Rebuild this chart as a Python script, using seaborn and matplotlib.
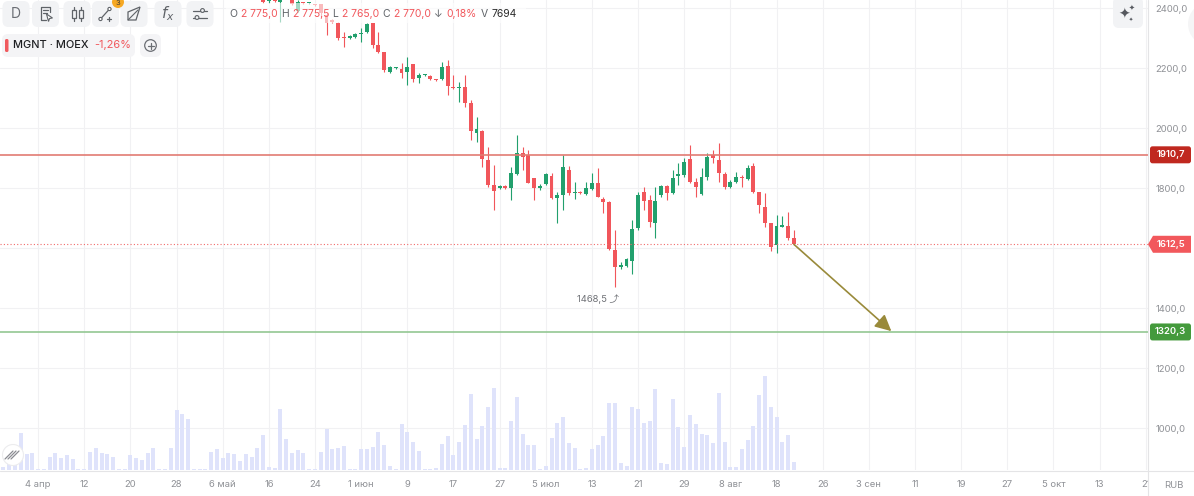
import numpy as np
import pandas as pd
import matplotlib
matplotlib.use("Agg")
import matplotlib.pyplot as plt
import seaborn as sns
from matplotlib.patches import FancyBboxPatch, Rectangle, Circle, Polygon
from matplotlib.lines import Line2D
from matplotlib.transforms import IdentityTransform, blended_transform_factory

# ---------------- data ----------------
volume = [6, 18, 18, 88, 37, 40, 2, 2, 32, 40, 28, 35, 26, 2, 2, 44, 53, 40, 37, 32,
          2, 2, 35, 28, 23, 41, 53, 2, 2, 53, 143, 134, 121, 3, 3, 2, 44, 51, 29, 40,
          38, 21, 37, 31, 53, 84, 6, 5, 145, 74, 40, 48, 41, 3, 3, 44, 98, 49, 53, 58,
          2, 2, 50, 50, 55, 90, 60, 10, 3, 110, 91, 66, 45, 3, 3, 4, 63, 80, 35, 66,
          106, 182, 73, 104, 151, 195, 5, 4, 117, 174, 86, 59, 60, 3, 9, 75, 113, 125, 65, 53,
          3, 4, 51, 60, 80, 159, 159, 16, 10, 151, 145, 113, 117, 194, 16, 14, 170, 102, 54, 130,
          110, 86, 84, 65, 184, 67, 8, 6, 51, 71, 104, 178, 224, 149, 126, 66, 84, 18]

candle_first_bar = 45
opens = [2428, 2423, 2424, 2420, 2445, 2432, 2390, 2417, 2416, 2413,
         2413, 2377, 2360, 2350, 2300, 2300, 2303, 2313, 2320, 2350,
         2277, 2253, 2187, 2200, 2197, 2187, 2213, 2167, 2178, 2173,
         2163, 2163, 2207, 2137, 2133, 2137, 2083, 1983, 1990, 1893,
         1810, 1800, 1807, 1800, 1847, 1917, 1910, 1833, 1800, 1813,
         1840, 1767, 1777, 1860, 1783, 1787, 1780, 1797, 1817, 1763,
         1753, 1593, 1537, 1540, 1557, 1667, 1787, 1760, 1683, 1777,
         1807, 1783, 1840, 1843, 1897, 1820, 1780, 1837, 1910, 1893,
         1847, 1803, 1820, 1837, 1830, 1873, 1787, 1737, 1683, 1610,
         1670, 1673, 1633]
highs = [2433, 2428, 2427, 2440, 2452, 2440, 2428, 2420, 2420, 2415,
         2415, 2383, 2363, 2352, 2320, 2310, 2316, 2333, 2350, 2350,
         2320, 2255, 2206, 2203, 2217, 2236, 2215, 2183, 2181, 2176,
         2165, 2220, 2227, 2177, 2153, 2177, 2093, 2037, 1993, 1937,
         1877, 1810, 1810, 1870, 1977, 1937, 1927, 1835, 1813, 1850,
         1850, 1787, 1910, 1873, 1820, 1790, 1820, 1850, 1867, 1770,
         1757, 1660, 1553, 1567, 1693, 1787, 1803, 1777, 1803, 1810,
         1810, 1860, 1883, 1900, 1943, 1833, 1867, 1917, 1927, 1950,
         1853, 1827, 1853, 1843, 1877, 1883, 1787, 1783, 1683, 1710,
         1707, 1720, 1660]
lows = [2418, 2418, 2419, 2353, 2432, 2410, 2387, 2413, 2413, 2408,
        2370, 2310, 2350, 2293, 2270, 2297, 2300, 2287, 2318, 2267,
        2250, 2187, 2185, 2197, 2166, 2143, 2153, 2150, 2175, 2160,
        2158, 2160, 2110, 2130, 2087, 2070, 1960, 1953, 1870, 1803,
        1727, 1797, 1797, 1760, 1843, 1860, 1817, 1760, 1793, 1810,
        1763, 1683, 1727, 1777, 1763, 1780, 1777, 1793, 1770, 1717,
        1593, 1468.5, 1530, 1537, 1513, 1660, 1727, 1670, 1633, 1770,
        1760, 1780, 1810, 1837, 1817, 1770, 1777, 1827, 1883, 1820,
        1797, 1800, 1817, 1803, 1827, 1783, 1717, 1670, 1590, 1583,
        1670, 1627, 1610]
closes = [2421, 2423, 2422, 2430, 2438, 2413, 2420, 2416, 2417, 2410,
          2383, 2350, 2353, 2300, 2299, 2307, 2313, 2317, 2347, 2277,
          2253, 2193, 2203, 2200, 2183, 2203, 2163, 2177, 2178, 2163,
          2160, 2203, 2140, 2133, 2137, 2083, 1990, 1997, 1897, 1810,
          1790, 1807, 1800, 1850, 1917, 1903, 1817, 1800, 1807, 1847,
          1767, 1777, 1870, 1783, 1787, 1783, 1800, 1817, 1770, 1753,
          1597, 1537, 1543, 1563, 1663, 1777, 1757, 1687, 1757, 1807,
          1783, 1833, 1847, 1887, 1820, 1803, 1837, 1903, 1900, 1850,
          1803, 1820, 1837, 1833, 1867, 1787, 1743, 1683, 1603, 1673,
          1677, 1633, 1612.5]

date_labels = ["4 апр", "12", "20", "28", "6 май", "16", "24", "1 июн", "9", "17",
               "27", "5 июл", "13", "21", "29", "8 авг", "18", "26", "3 сен", "11",
               "19", "27", "5 окт", "13", "21"]
price_ticks = [1000, 1200, 1400, 1600, 1800, 2000, 2200, 2400]
resistance_level = 1910.7
target_level = 1320.3
last_price = 1612.5
period_low = 1468.5
target_bar = 153.9
target_price = 1323.0
ohlc_header = [("O", "2 775,0"), ("H", "2 775,5"), ("L", "2 765,0"), ("C", "2 770,0")]
change_pct = "0,18%"
volume_last = "7694"
ticker = "MGNT · MOEX"
day_change = "-1,26%"
currency = "RUB"

# ---------------- style ----------------
sns.set_theme(style="white")
plt.rcParams['font.family'] = ['Inter', 'DejaVu Sans', 'Noto Sans CJK SC', 'Noto Sans']

RED = '#f1565b'
GREEN = '#22a06d'
VOL = '#dfe3fb'
GRID = '#f1f1f3'
LABEL = '#8f9196'

W, H = 1194, 496
fig = plt.figure(figsize=(W / 100, H / 100), dpi=100, facecolor='white')
rect = [0, 26 / H, 1147.5 / W, 470 / H]
ax_vol = fig.add_axes(rect, zorder=0)
ax = fig.add_axes(rect, zorder=1)
ax.patch.set_visible(False)

XLIM = (-0.6, 198.3)
YLIM = (860.2, 2426.7)
ax.set_xlim(*XLIM)
ax.set_ylim(*YLIM)

tick_pos = [6 + 8 * k for k in range(len(date_labels))]

# ---- volume (seaborn) ----
vol_df = pd.DataFrame({"bar": np.arange(len(volume)), "volume": volume})
sns.barplot(data=vol_df, x="bar", y="volume", native_scale=True, color=VOL,
            saturation=1, width=0.7, errorbar=None, linewidth=0, ax=ax_vol, zorder=2)
ax_vol.set_xlim(*XLIM)
ax_vol.set_ylim(0, 1119)
ax_vol.set_axis_off()
# grid behind volume
bt = blended_transform_factory(ax_vol.transAxes, ax.transData)
for p in price_ticks:
    ax_vol.plot([0, 1], [p, p], transform=bt, color=GRID, lw=0.8, zorder=0)
for t in tick_pos:
    ax_vol.axvline(t, color=GRID, lw=0.8, zorder=0)

# ---- candles ----
ci = np.arange(candle_first_bar, candle_first_bar + len(opens))
o = np.array(opens, float); h = np.array(highs, float)
l = np.array(lows, float); c = np.array(closes, float)
cols = np.where(c >= o, GREEN, RED)
ax.vlines(ci, l, h, colors=cols, lw=0.8, zorder=3)
body = np.maximum(np.abs(c - o), 3.3)
ax.bar(ci, body, bottom=np.minimum(o, c), width=0.68, color=cols, linewidth=0, zorder=4)

# ---- levels ----
ax.axhline(resistance_level, color='#e27b73', lw=1.2, zorder=5)
ax.axhline(target_level, color='#93c792', lw=1.2, zorder=5)
ax.axhline(last_price, color='#f06a6a', lw=0.8, ls=(0, (1, 2)), zorder=5)
ax.annotate('', xy=(target_bar, target_price), xytext=(ci[-1], closes[-1]),
            arrowprops=dict(arrowstyle='-|>,head_length=0.7,head_width=0.35', color='#998a3a',
                            lw=1.2, shrinkA=0, shrinkB=0, mutation_scale=14), zorder=6)
low_bar = ci[int(np.argmin(l))]
ax.annotate(f"{period_low:.1f}".replace('.', ',') + " ⤴", xy=(low_bar, period_low),
            xytext=(-17, -7), textcoords='offset pixels', ha='center', va='top',
            fontsize=6.8, color='#6f7176', zorder=6)

# ---- axes ticks ----
for s in ax.spines.values():
    s.set_visible(False)
ax.grid(False)
ax.set_xticks(tick_pos, labels=date_labels)
ax.tick_params(axis='x', length=0, pad=7.5, labelsize=6.8, labelcolor=LABEL)
ax.yaxis.tick_right()
ax.set_yticks(price_ticks, labels=['' if p == 1600 else f"{p:.1f}".replace('.', ',') for p in price_ticks])
ax.tick_params(axis='y', length=0, pad=5.5, labelsize=6.8, labelcolor=LABEL)

# ---------------- overlay helpers (pixel coords, origin top-left) ----------------
T = IdentityTransform()


def L(xs, ys, color='#5f6368', lw=1.0, z=9, **kw):
    fig.add_artist(Line2D(xs, [H - y for y in ys], transform=T, color=color, lw=lw,
                          solid_capstyle='round', zorder=z, **kw))


def box(x0, y0, x1, y1, fc, r=5, z=7, ec='none', lw=0):
    fig.add_artist(FancyBboxPatch((x0, H - y1), x1 - x0, y1 - y0,
                                  boxstyle=f"round,pad=0,rounding_size={r}",
                                  transform=T, fc=fc, ec=ec, lw=lw, zorder=z))


def txt(x, y, s, **kw):
    kw.setdefault('zorder', 10)
    return fig.text(x, H - y, s, transform=T, **kw)


renderer = fig.canvas.get_renderer()

# separators
fig.add_artist(Rectangle((1148, 0), W - 1148, 25, transform=T, fc='white', ec='none', zorder=5))
fig.add_artist(Line2D([1147.5, 1147.5], [0, H], transform=T, color='#e4e4e6', lw=0.8, zorder=6))
fig.add_artist(Line2D([0, W], [H - 470.5, H - 470.5], transform=T, color='#e4e4e6', lw=0.8, zorder=6))
txt(1174, 486, currency, fontsize=6.8, color=LABEL, ha='center', va='center')

# price badges
def ypix(price):
    return H - ax.transData.transform((0, price))[1]


for price, fc in [(resistance_level, '#c0281f'), (target_level, '#449a3c')]:
    yc = ypix(price)
    box(1150, yc - 8.5, 1191, yc + 8.5, fc, r=2.5, z=8)
    txt(1170.5, yc, f"{price:.1f}".replace('.', ','), fontsize=6.8, color='white',
        ha='center', va='center', weight='semibold')
yc = ypix(last_price)
fig.add_artist(Polygon([(1148, H - yc), (1153, H - yc - 8.5), (1191, H - yc - 8.5),
                        (1191, H - yc + 8.5), (1153, H - yc + 8.5)], closed=True,
                       transform=T, fc='#f2585c', ec='none', zorder=8))
txt(1171, yc, f"{last_price:.1f}".replace('.', ','), fontsize=6.8, color='white',
    ha='center', va='center', weight='semibold')

# ---- faded band behind OHLC header ----
fig.add_artist(Rectangle((226, H - 23), 300, 20, transform=T, fc='white', ec='none',
                         alpha=0.6, zorder=7))
x = 229.5
parts = []
for k, v in ohlc_header:
    parts += [(k, '#5f6368'), (v, RED)]
parts += [("↓", '#5f6368'), (change_pct, RED), ("V", '#5f6368'), (volume_last, '#2b2b2b')]
for i, (s, col) in enumerate(parts):
    t = txt(x, 14, s, fontsize=7.5, color=col, ha='left', va='center')
    bb = t.get_window_extent(renderer=renderer)
    x = bb.x1 + 3.6

# ---- toolbar ----
BTN = '#f2f3f5'
ICON = '#5f6368'
centers = [16, 45.5, 77, 105.5, 134, 168, 200]
for cx in centers:
    box(cx - 13.5, 1, cx + 13.5, 27, BTN, r=6)
txt(16, 14.5, "D", fontsize=10, color='#6b6e74', ha='center', va='center')
# document icon
cx = 45.5
L([cx - 5, cx - 5, cx + 4, cx + 4], [16, 7, 7, 12], lw=0.9)
L([cx - 5, cx - 5, cx + 0], [16, 20, 20], lw=0.9)
L([cx - 3, cx + 2], [10, 10], lw=0.9)
L([cx - 3, cx + 1], [13, 13], lw=0.9)
fig.add_artist(Polygon([(cx + 1, H - 14), (cx + 7, H - 18), (cx + 4, H - 18.5), (cx + 3, H - 21.5)],
                       closed=True, transform=T, fc='white', ec=ICON, lw=0.8, zorder=9))
# candle icon
cx = 77
for dx in (-3.5, 3.5):
    fig.add_artist(Rectangle((cx + dx - 2, H - 18), 4, 8, transform=T, fc='none', ec=ICON,
                             lw=0.9, zorder=9))
    L([cx + dx, cx + dx], [7, 10], lw=0.9)
    L([cx + dx, cx + dx], [18, 21], lw=0.9)
# drawing icon
cx = 105.5
L([cx - 5, cx + 4], [19, 9], lw=0.9)
for (px, py) in [(cx - 5, 19), (cx + 4, 9)]:
    fig.add_artist(Circle((px, H - py), 1.6, transform=T, fc='white', ec=ICON, lw=0.8, zorder=10))
L([cx + 1, cx + 5], [19, 19], lw=0.9)
L([cx + 3, cx + 3], [17, 21], lw=0.9)
fig.add_artist(Circle((118, H - 2), 6, transform=T, fc='#f6a823', ec='none', zorder=11))
txt(118, 3.2, "3", fontsize=5.5, color='#3a3a3a', ha='center', va='center', zorder=12)
# shape icon
cx = 134
fig.add_artist(Polygon([(cx - 6, H - 20), (cx - 6, H - 12), (cx + 6, H - 7), (cx + 2, H - 20)],
                       closed=True, transform=T, fc='none', ec=ICON, lw=0.9, zorder=9))
L([cx - 6, cx + 4], [20, 10], lw=0.8)
# fx
txt(168, 14, r"$f_x$", fontsize=11, color='#5f6368', ha='center', va='center')
# sliders
cx = 200
L([cx - 7, cx + 7], [10.5, 10.5], lw=0.9)
L([cx - 7, cx + 7], [17.5, 17.5], lw=0.9)
fig.add_artist(Circle((cx + 2.5, H - 10.5), 1.9, transform=T, fc=BTN, ec=ICON, lw=0.8, zorder=10))
fig.add_artist(Circle((cx - 3, H - 17.5), 1.9, transform=T, fc=BTN, ec=ICON, lw=0.8, zorder=10))

# ---- ticker row ----
box(2, 34, 135, 57, '#f4f4f6', r=6)
box(5, 39, 8.5, 52, '#f05a5e', r=1.5, z=8)
t = txt(13, 45.5, ticker, fontsize=7.9, color='#1e1f22', ha='left', va='center', weight='medium')
bb = t.get_window_extent(renderer=renderer)
txt(bb.x1 + 6, 45.5, day_change, fontsize=7.9, color=RED, ha='left', va='center')
box(140, 34, 161, 57, '#f4f4f6', r=6)
fig.add_artist(Circle((150.5, H - 45.5), 5.8, transform=T, fc='none', ec='#6b6e74', lw=0.9, zorder=9))
L([147.5, 153.5], [45.5, 45.5], color='#6b6e74', lw=0.9)
L([150.5, 150.5], [42.5, 48.5], color='#6b6e74', lw=0.9)

# ---- sparkle button top right ----
box(1113, -3, 1143, 28, '#f2f3f5', r=6)
txt(1124.5, 14.5, "✦", fontsize=10, color='#55585e', ha='center', va='center', family='DejaVu Sans')
txt(1131.5, 8, "✦", fontsize=5, color='#55585e', ha='center', va='center', family='DejaVu Sans')
txt(1131, 20, "✦", fontsize=3.5, color='#55585e', ha='center', va='center', family='DejaVu Sans')
fig.add_artist(Circle((1210, H - 24), 22, transform=T, fc='#f5f5f6', ec='none', zorder=7))

# ---- bottom-left drawing toggle ----
fig.add_artist(Circle((13, H - 455), 10.5, transform=T, fc='white', ec='#ececee', lw=0.8, zorder=7))
for d in (-3, 0, 3):
    L([8 + d, 16 + d], [459 + 0, 451 + 0], color='#8a8c92', lw=0.9)

fig.savefig("out.png", dpi=100, facecolor='white')
